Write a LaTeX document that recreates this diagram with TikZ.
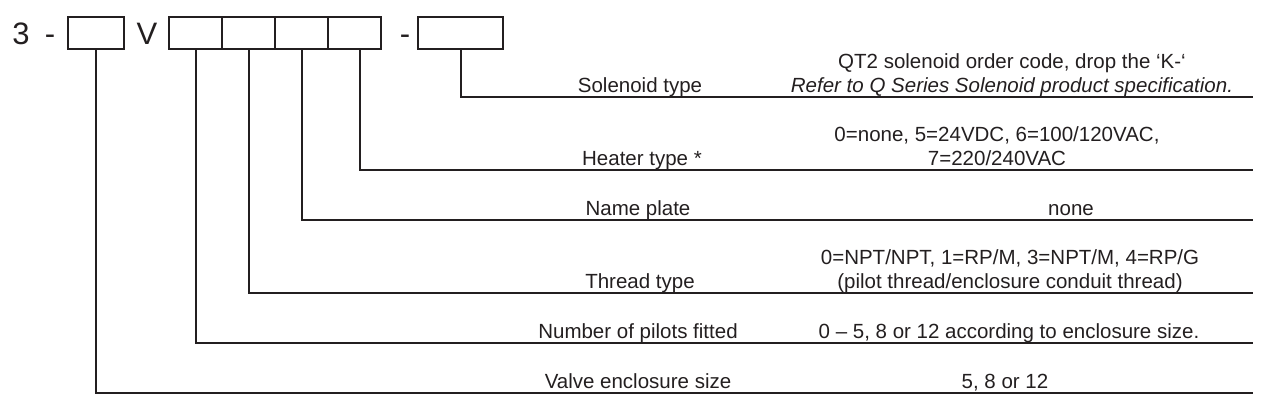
\documentclass[tikz,border=0pt]{standalone}
\usepackage{fontspec}
\setmainfont{Liberation Sans}
\definecolor{ink}{RGB}{35,31,32}
\begin{document}
\begin{tikzpicture}[x=1pt,y=-1pt,line width=2pt,color=ink,
  box/.style={draw,minimum width=#1,minimum height=32pt,inner sep=0pt},
  lbl/.style={anchor=base,inner sep=0pt,font=\fontsize{20.5}{24}\selectfont},
  val/.style={anchor=base,inner sep=0pt,align=center,font=\fontsize{20.5}{24}\selectfont},
  big/.style={anchor=base,inner sep=0pt,font=\fontsize{31}{31}\selectfont}]
\useasboundingbox (0,0) rectangle (1262,415);
% order code
\node[big] (three) at (21,45) {3};
\node[big] (dashA) at (50,45) {-};
\node[box=56pt] (b1) at (96,33) {};
\node[big] (vee) at (147,45) {V};
\node[box=53pt] (b2) at (195.5,33) {};
\node[box=53pt] (b3) at (248.5,33) {};
\node[box=53pt] (b4) at (301.5,33) {};
\node[box=53pt] (b5) at (354.5,33) {};
\node[big] (dashB) at (405,45) {-};
\node[box=85pt] (b6) at (460.5,33) {};
% line ends
\coordinate (e6) at (1253,97);
\coordinate (e5) at (1253,170);
\coordinate (e4) at (1253,220);
\coordinate (e3) at (1253,293);
\coordinate (e2) at (1253,343);
\coordinate (e1) at (1253,393);
\draw (b6.south) |- (e6);
\draw ([xshift=5pt]b5.south) |- (e5);
\draw (b4.south) |- (e4);
\draw (b3.south) |- (e3);
\draw (b2.south) |- (e2);
\draw (b1.south) |- (e1);
% labels
\node[lbl] (sol) at (640,92) {Solenoid type};
\node[val] (solv) at (1012,92) {QT2 solenoid order code, drop the `K-`\\ \itshape Refer to Q Series Solenoid product specification.};
\node[lbl] (heat) at (642,165) {Heater type *};
\node[val] (heatv) at (997,165) {0=none, 5=24VDC, 6=100/120VAC,\\ 7=220/240VAC};
\node[lbl] (plate) at (638,215) {Name plate};
\node[val] (platev) at (1071,215) {none};
\node[lbl] (thread) at (640,288) {Thread type};
\node[val] (threadv) at (1010,288) {0=NPT/NPT, 1=RP/M, 3=NPT/M, 4=RP/G\\ (pilot thread/enclosure conduit thread)};
\node[lbl] (pilot) at (638,338) {Number of pilots fitted};
\node[val] (pilotv) at (1009,338) {0 -- 5, 8 or 12 according to enclosure size.};
\node[lbl] (encl) at (638,388) {Valve enclosure size};
\node[val] (enclv) at (1005,388) {5, 8 or 12};
\end{tikzpicture}
\end{document}
